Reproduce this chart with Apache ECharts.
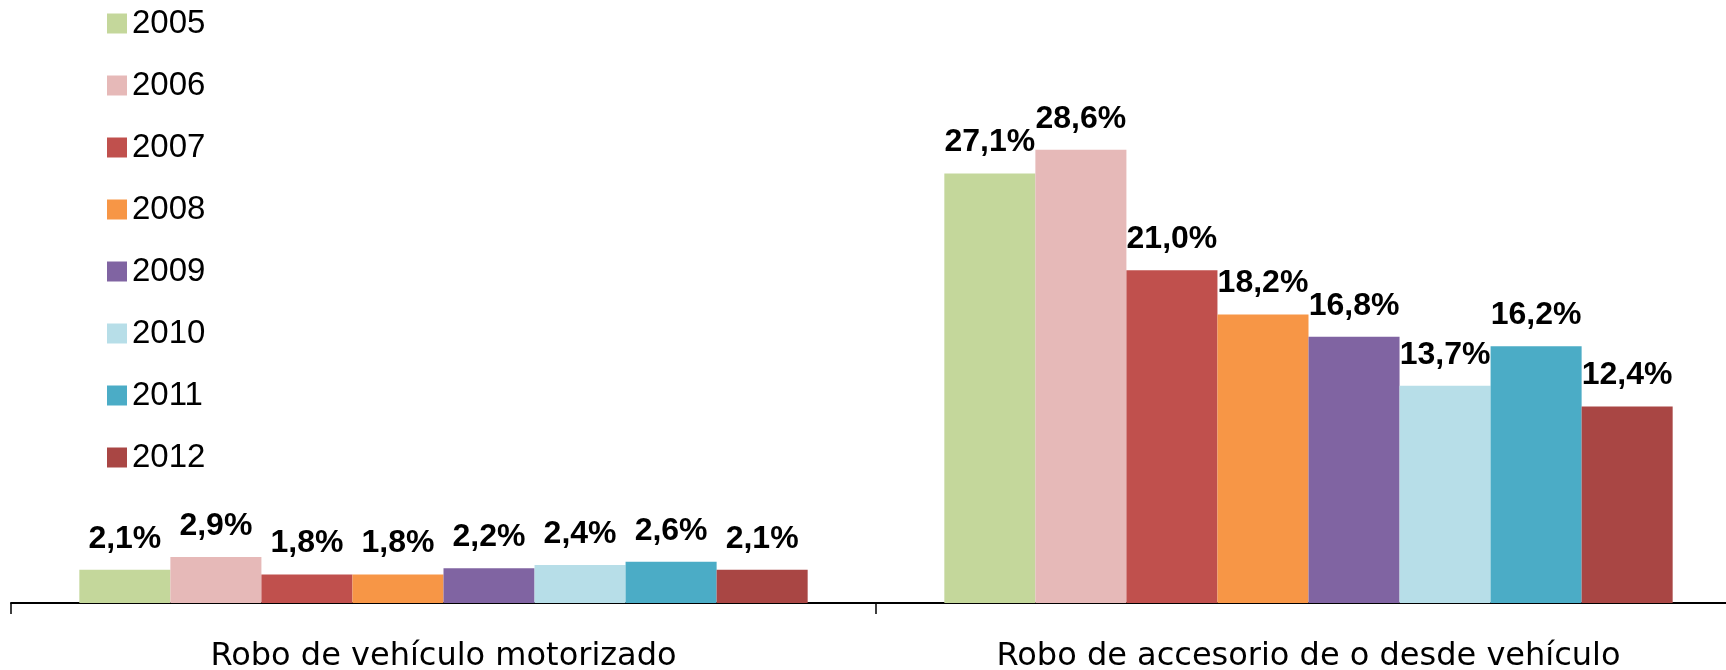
<!DOCTYPE html>
<html>
<head>
<meta charset="utf-8">
<style>
  html, body { margin: 0; padding: 0; background: #fff; }
  #chart { width: 1726px; height: 670px; }
</style>
<script src="https://cdn.jsdelivr.net/npm/echarts@6/dist/echarts.min.js"></script>
</head>
<body>
<div id="chart"></div>
<script>
// categorías y años
const categories = ['Robo de vehículo motorizado', 'Robo de accesorio de o desde vehículo'];
const years = ['2005', '2006', '2007', '2008', '2009', '2010', '2011', '2012'];

// porcentaje por año: [vehículo, accesorio]
const v2005 = [2.1, 27.1];
const v2006 = [2.9, 28.6];
const v2007 = [1.8, 21.0];
const v2008 = [1.8, 18.2];
const v2009 = [2.2, 16.8];
const v2010 = [2.4, 13.7];
const v2011 = [2.6, 16.2];
const v2012 = [2.1, 12.4];

const values = [v2005, v2006, v2007, v2008, v2009, v2010, v2011, v2012];

const COLORS = [
  '#C4D79B', '#E6B9B8', '#C0504D', '#F79646',
  '#8064A2', '#B7DEE8', '#4BACC6', '#A94644',
];

const FONT = 'Liberation Sans, Arial, sans-serif';
const WIDE = 'DejaVu Sans, sans-serif';

const fmt = (v) => v.toFixed(1).replace('.', ',') + '%';

const chart = echarts.init(document.getElementById('chart'), null, { renderer: 'canvas' });

chart.setOption({
  backgroundColor: '#fff',
  animation: false,
  color: COLORS,
  legend: {
    orient: 'vertical',
    left: 107,
    top: 7,
    padding: 0,
    itemWidth: 20,
    itemHeight: 20,
    itemGap: 29,
    icon: 'rect',
    data: years,
    textStyle: { color: '#000', fontSize: 33, fontFamily: FONT },
  },
  grid: {
    left: 11, width: 1730, top: 127.5, bottom: 67,
    containLabel: false,
    outerBoundsMode: 'none',
  },
  xAxis: {
    type: 'category',
    data: categories,
    axisLine: { lineStyle: { color: '#000', width: 2 } },
    axisTick: { show: true, length: 11, lineStyle: { color: '#000', width: 1.5 } },
    axisLabel: {
      margin: 38,
      color: '#000',
      fontSize: 32,
      fontFamily: WIDE,
      hideOverlap: false,
      showMaxLabel: true,
    },
  },
  yAxis: {
    type: 'value',
    min: 0,
    max: 30,
    show: false,
    splitLine: { show: false },
  },
  series: years.map((y, i) => ({
    name: y,
    type: 'bar',
    data: values[i],
    barGap: '0%',
    barCategoryGap: '15.8%',
    itemStyle: { color: COLORS[i] },
    label: {
      show: true,
      position: 'top',
      distance: 15,
      color: '#000',
      fontSize: 32,
      fontWeight: 'bold',
      fontFamily: FONT,
      formatter: (p) => fmt(p.value),
    },
  })),
});
</script>
</body>
</html>
